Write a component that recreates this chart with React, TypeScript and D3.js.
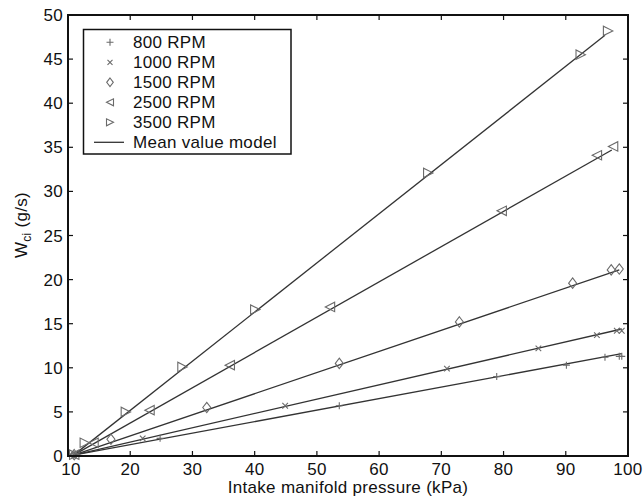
import React from "react";
import * as d3 from "d3";

const seriesNames = ["800 RPM", "1000 RPM", "1500 RPM", "2500 RPM", "3500 RPM"];
const markerKinds = ["plus", "cross", "diamond", "tleft", "tright"];

const p800 = [11, 24.8, 53.6, 78.9, 90.1, 96.3, 98.6, 99.0];
const w800 = [0.15, 2.0, 5.7, 9.0, 10.3, 11.2, 11.3, 11.3];
const p1000 = [11, 22.0, 44.9, 70.9, 85.6, 95.0, 98.2, 99.0];
const w1000 = [0.15, 2.0, 5.7, 9.9, 12.2, 13.7, 14.2, 14.2];
const p1500 = [11, 16.9, 32.3, 53.6, 72.9, 91.1, 97.3, 98.6];
const w1500 = [0.15, 1.9, 5.5, 10.5, 15.2, 19.6, 21.1, 21.2];
const p2500 = [11, 14.1, 23.1, 36.0, 52.1, 79.7, 95.0, 97.6];
const w2500 = [0.15, 1.5, 5.2, 10.3, 16.9, 27.8, 34.1, 35.1];
const p3500 = [11, 12.7, 19.3, 28.4, 40.1, 67.9, 92.4, 96.8];
const w3500 = [0.15, 1.5, 5.0, 10.1, 16.6, 32.1, 45.5, 48.2];

// Mean value model lines: start and end for each speed
const modelStartP = [10.9, 10.9, 10.9, 10.9, 10.9];
const modelStartW = [0.1, 0.1, 0.1, 0.1, 0.1];
const modelEndP = [99.0, 99.0, 98.6, 97.4, 96.3];
const modelEndW = [11.6, 14.4, 21.1, 34.7, 47.7];

const xTicks = [10, 20, 30, 40, 50, 60, 70, 80, 90, 100];
const yTicks = [0, 5, 10, 15, 20, 25, 30, 35, 40, 45, 50];

const pData = [p800, p1000, p1500, p2500, p3500];
const wData = [w800, w1000, w1500, w2500, w3500];

const W = 643;
const H = 501;
const L = 68, R = 628, T = 15, B = 456;
const FONT = "'Liberation Sans', Arial, Helvetica, sans-serif";
const FS = 17;
const LS = 0.3;
const MARK = "#6a6a6a";
const LINE = "#333";

function markerPath(kind: string, s: number) {
  switch (kind) {
    case "plus":
      return `M${-s},0H${s}M0,${-s}V${s}`;
    case "cross":
      return `M${-s},${-s}L${s},${s}M${-s},${s}L${s},${-s}`;
    case "diamond":
      return `M0,${-s * 1.3}L${s},0L0,${s * 1.3}L${-s},0Z`;
    case "tleft":
      return `M${-s},0L${s},${-s}L${s},${s}Z`;
    case "tright":
      return `M${s},0L${-s},${-s}L${-s},${s}Z`;
  }
  return "";
}
const markerSize: Record<string, number> = { plus: 3.5, cross: 2.8, diamond: 4, tleft: 4.7, tright: 4.7 };
const legendSize: Record<string, number> = { plus: 3.5, cross: 2.5, diamond: 3.3, tleft: 3.5, tright: 3.5 };

export default function App() {
  const x = d3.scaleLinear().domain([10, 100]).range([L, R]);
  const y = d3.scaleLinear().domain([0, 50]).range([B, T]);
  const line = d3.line<[number, number]>().x((d) => x(d[0])).y((d) => y(d[1]));

  return (
    <div style={{ position: "absolute", left: 0, top: 0 }}>
      <svg width={W} height={H} style={{ display: "block", background: "#fff" }} fontFamily={FONT} letterSpacing={LS}>
        {/* model lines */}
        {seriesNames.map((_, i) => (
          <path
            key={"m" + i}
            d={line([[modelStartP[i], modelStartW[i]], [modelEndP[i], modelEndW[i]]]) || ""}
            fill="none"
            stroke={LINE}
            strokeWidth={1.3}
          />
        ))}
        {/* markers */}
        {pData.map((ps, i) =>
          ps.map((p, j) => (
            <path
              key={`pt${i}-${j}`}
              transform={`translate(${x(p)},${y(wData[i][j])})`}
              d={markerPath(markerKinds[i], markerSize[markerKinds[i]])}
              fill="none"
              stroke={MARK}
              strokeWidth={1.1}
            />
          ))
        )}
        {/* box */}
        <rect x={L} y={T} width={R - L} height={B - T} fill="none" stroke="#111" strokeWidth={2} />
        {/* x ticks */}
        {xTicks.map((t, i) => (
          <g key={"xt" + t}>
            <line x1={x(t)} x2={x(t)} y1={B} y2={B - 5} stroke="#111" strokeWidth={1.2} />
            <line x1={x(t)} x2={x(t)} y1={T} y2={T + 5} stroke="#111" strokeWidth={1.2} />
            <text x={x(t) + (i === 0 ? 3 : 0)} y={475} fontSize={FS} textAnchor="middle" fill="#111">
              {t}
            </text>
          </g>
        ))}
        {yTicks.map((t) => (
          <g key={"yt" + t}>
            <line x1={L} x2={L + 5} y1={y(t)} y2={y(t)} stroke="#111" strokeWidth={1.2} />
            <line x1={R} x2={R - 5} y1={y(t)} y2={y(t)} stroke="#111" strokeWidth={1.2} />
            <text x={L - 5} y={y(t) + 6} fontSize={FS} textAnchor="end" fill="#111">
              {t}
            </text>
          </g>
        ))}
        {/* axis labels */}
        <text x={(L + R) / 2} y={493} fontSize={FS} textAnchor="middle" fill="#111">
          Intake manifold pressure (kPa)
        </text>
        <text transform={`translate(27,225) rotate(-90)`} fontSize={FS} textAnchor="middle" fill="#111">
          W<tspan fontSize={12} dy={4}>ci</tspan>
          <tspan dy={-4}> (g/s)</tspan>
        </text>
        {/* legend */}
        <rect x={83.5} y={29.5} width={207.5} height={124.5} fill="#fff" stroke="#111" strokeWidth={1.5} />
        {seriesNames.map((n, i) => {
          const cy = 42.3 + i * 20;
          return (
            <g key={"lg" + i}>
              <path
                transform={`translate(110,${cy})`}
                d={markerPath(markerKinds[i], legendSize[markerKinds[i]])}
                fill="none"
                stroke={MARK}
                strokeWidth={1.1}
              />
              <text x={133} y={cy + 6} fontSize={FS} fill="#111">
                {n}
              </text>
            </g>
          );
        })}
        <line x1={94} x2={124} y1={142.3} y2={142.3} stroke={LINE} strokeWidth={1.3} />
        <text x={133} y={142.3 + 6} fontSize={FS} fill="#111">
          Mean value model
        </text>
      </svg>
    </div>
  );
}
